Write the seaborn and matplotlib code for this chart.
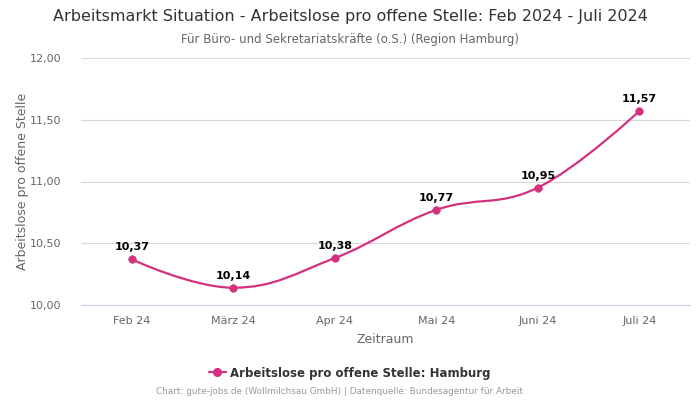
import numpy as np
import pandas as pd
import matplotlib
matplotlib.use("Agg")
import matplotlib.pyplot as plt
import seaborn as sns
from matplotlib.path import Path
from matplotlib.patches import PathPatch
from matplotlib.lines import Line2D

months = ["Feb 24", "März 24", "Apr 24", "Mai 24", "Juni 24", "Juli 24"]
values = [10.37, 10.14, 10.38, 10.77, 10.95, 11.57]
series_name = "Arbeitslose pro offene Stelle: Hamburg"
yticks = [10.0, 10.5, 11.0, 11.5, 12.0]

color = "#d3317e"

sns.set_theme(style="white")
plt.rcParams["font.family"] = ["DejaVu Sans"]

df = pd.DataFrame({"Zeitraum": months, "Wert": values})
df["pos"] = np.arange(len(df))

fig = plt.figure(figsize=(7, 4), dpi=100)
ax = fig.add_axes([81/700, 1-305/400, (690-81)/700, (305-58)/400])

# Highcharts-like spline path
xs = df["pos"].to_numpy(dtype=float)
ys = df["Wert"].to_numpy(dtype=float)
sm = 1.5
den = sm + 1
ctrl = []
for i in range(len(xs)):
    if i == 0 or i == len(xs) - 1:
        ctrl.append(((xs[i], ys[i]), (xs[i], ys[i])))
        continue
    lx = (sm * xs[i] + xs[i-1]) / den
    ly = (sm * ys[i] + ys[i-1]) / den
    rx = (sm * xs[i] + xs[i+1]) / den
    ry = (sm * ys[i] + ys[i+1]) / den
    corr = ((ry - ly) * (rx - xs[i])) / (rx - lx) + ys[i] - ry
    ly += corr
    ry += corr
    if ly > ys[i-1] and ly > ys[i]:
        ly = max(ys[i-1], ys[i]); ry = 2 * ys[i] - ly
    elif ly < ys[i-1] and ly < ys[i]:
        ly = min(ys[i-1], ys[i]); ry = 2 * ys[i] - ly
    if ry > ys[i+1] and ry > ys[i]:
        ry = max(ys[i+1], ys[i]); ly = 2 * ys[i] - ry
    elif ry < ys[i+1] and ry < ys[i]:
        ry = min(ys[i+1], ys[i]); ly = 2 * ys[i] - ry
    ctrl.append(((lx, ly), (rx, ry)))

verts = [(xs[0], ys[0])]
codes = [Path.MOVETO]
for i in range(1, len(xs)):
    verts += [ctrl[i-1][1], ctrl[i][0], (xs[i], ys[i])]
    codes += [Path.CURVE4] * 3
ax.add_patch(PathPatch(Path(verts, codes), facecolor="none", edgecolor=color,
                       lw=1.6, transform=ax.transData, zorder=3))

sns.scatterplot(data=df, x="pos", y="Wert", color=color, s=30, edgecolor=color,
                zorder=4, ax=ax, legend=False)

for x, y in zip(xs, ys):
    ax.annotate(f"{y:.2f}".replace(".", ","), (x, y), xytext=(0, 5),
                textcoords="offset points", ha="center", va="bottom",
                fontsize=8, fontweight="bold", color="black", zorder=5)

ax.set_xlim(-0.5, len(xs) - 0.5)
ax.set_ylim(10, 12)
ax.set_yticks(yticks)
ax.set_yticklabels([f"{t:.2f}".replace(".", ",") for t in yticks])
ax.set_xticks(xs)
ax.set_xticklabels(months)
ax.tick_params(axis="both", labelsize=8, colors="#666666", length=0)
ax.tick_params(axis="x", pad=8)
ax.tick_params(axis="y", pad=14)
ax.grid(axis="y", color="#d8d8d8", lw=0.8)
ax.set_axisbelow(True)
for s in ["top", "right", "left"]:
    ax.spines[s].set_visible(False)
ax.spines["bottom"].set_color("#ccd6eb")
ax.spines["bottom"].set_linewidth(0.8)

ax.set_xlabel("Zeitraum", fontsize=9, color="#666666", labelpad=5)
ax.set_ylabel("Arbeitslose pro offene Stelle", fontsize=9, color="#666666", labelpad=1)

fig.text(0.5, 1-17/400, "Arbeitsmarkt Situation - Arbeitslose pro offene Stelle: Feb 2024 - Juli 2024",
         ha="center", va="center", fontsize=11.5, color="#333333")
fig.text(0.5, 1-39/400, "Für Büro- und Sekretariatskräfte (o.S.) (Region Hamburg)",
         ha="center", va="center", fontsize=8.5, color="#666666")

handle = Line2D([0], [0], color=color, lw=1.6, marker="o", markersize=5.5)
fig.legend([handle], [series_name], loc="center", bbox_to_anchor=(0.5, 1-373/400),
           frameon=False, prop={"weight": "bold", "size": 8.5}, labelcolor="#333333",
           handlelength=1.4, handletextpad=0.4)

fig.text(340/700, 1-392/400, "Chart: gute-jobs.de (Wollmilchsau GmbH) | Datenquelle: Bundesagentur für Arbeit",
         ha="center", va="center", fontsize=6.4, color="#999999")

fig.savefig("out.png", dpi=100)
